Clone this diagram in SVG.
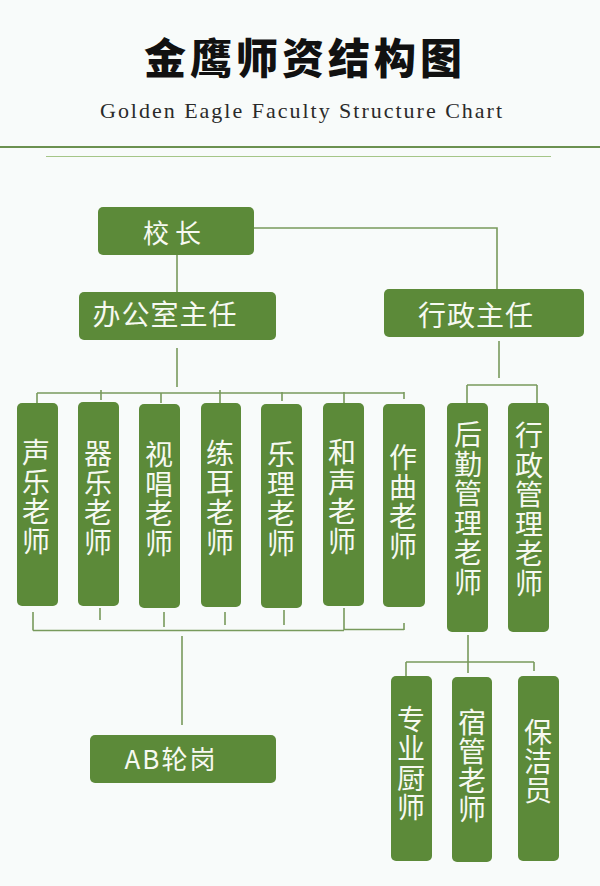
<svg xmlns="http://www.w3.org/2000/svg" width="600" height="886" viewBox="0 0 600 886">
<style>
.bg{fill:#f8fbfa}
.box{fill:#5c8a39}
.lbl{fill:#f6f9f1;font-family:"Noto Sans CJK SC","Noto Sans",sans-serif;font-size:28px;text-anchor:middle}
.conn path{fill:none;stroke:#789a5c;stroke-width:1.6}
.title{fill:#111;font-family:"Noto Sans CJK SC",sans-serif;font-weight:900;font-size:42px;text-anchor:middle;letter-spacing:4px}
.sub{fill:#2a2a2a;font-family:"Liberation Serif","DejaVu Serif",serif;font-size:22px}
</style>
<rect class="bg" x="0" y="0" width="600" height="886"/>
<g id="header">
<text class="title" x="305" y="74">金鹰师资结构图</text>
<text class="sub" x="100" y="118" textLength="402" lengthAdjust="spacing">Golden Eagle Faculty Structure Chart</text>
<line x1="0" y1="147" x2="600" y2="147" stroke="#6b9150" stroke-width="2.2"/>
<line x1="46" y1="156.5" x2="551" y2="156.5" stroke="#a5c688" stroke-width="1.2"/>
</g>
<g id="connectors" class="conn">
<path d="M254 228H497V289"/>
<path d="M177 255V292"/>
<path d="M177 348V387"/>
<path d="M37 393H404"/>
<path d="M37 393V403M101 390V400M161 393V403M220 390V403M282 392V401M344 392V403M404 392V399"/>
<path d="M499 341V378"/>
<path d="M467 385H537M467 385V403M537 385V403"/>
<path d="M33 612V630.5M100 608V620M164 612V627M225 612V625M284 610V625M344 608V630M404 623V630"/>
<path d="M33 630.5H344M344 629.5H404"/>
<path d="M182 636V725"/>
<path d="M468 635V673M406 662H534M406 662V677M534 662V671"/>
</g>
<g id="n-principal"><rect class="box" x="98" y="207" width="156" height="48" rx="5"/><text class="lbl" x="172" y="243" style="font-size:26px">校 长</text></g>
<g id="n-office"><rect class="box" x="79" y="292" width="197" height="48" rx="5"/><text class="lbl" x="165" y="325" style="letter-spacing:1px">办公室主任</text></g>
<g id="n-admin"><rect class="box" x="384" y="289" width="200" height="48" rx="5"/><text class="lbl" x="476" y="326" style="letter-spacing:1px">行政主任</text></g>
<g id="n-vocal"><rect class="box" x="17" y="403" width="41" height="203" rx="5"/><text class="lbl"><tspan x="36" y="463">声</tspan><tspan x="36" y="492.5">乐</tspan><tspan x="36" y="522">老</tspan><tspan x="36" y="551.5">师</tspan></text></g>
<g id="n-instr"><rect class="box" x="78" y="402" width="41" height="204" rx="5"/><text class="lbl"><tspan x="98" y="464">器</tspan><tspan x="98" y="493.5">乐</tspan><tspan x="98" y="523">老</tspan><tspan x="98" y="552.5">师</tspan></text></g>
<g id="n-sight"><rect class="box" x="139" y="404" width="41" height="204" rx="5"/><text class="lbl"><tspan x="159" y="465">视</tspan><tspan x="159" y="494.5">唱</tspan><tspan x="159" y="524">老</tspan><tspan x="159" y="553.5">师</tspan></text></g>
<g id="n-ear"><rect class="box" x="201" y="403" width="40" height="204" rx="5"/><text class="lbl"><tspan x="220" y="464">练</tspan><tspan x="220" y="493.5">耳</tspan><tspan x="220" y="523">老</tspan><tspan x="220" y="552.5">师</tspan></text></g>
<g id="n-theory"><rect class="box" x="261" y="404" width="41" height="204" rx="5"/><text class="lbl"><tspan x="281" y="465">乐</tspan><tspan x="281" y="494.5">理</tspan><tspan x="281" y="524">老</tspan><tspan x="281" y="553.5">师</tspan></text></g>
<g id="n-harmony"><rect class="box" x="323" y="403" width="41" height="203" rx="5"/><text class="lbl"><tspan x="342" y="463">和</tspan><tspan x="342" y="492.5">声</tspan><tspan x="342" y="522">老</tspan><tspan x="342" y="551.5">师</tspan></text></g>
<g id="n-compose"><rect class="box" x="383" y="404" width="42" height="203" rx="5"/><text class="lbl"><tspan x="403" y="468">作</tspan><tspan x="403" y="497.5">曲</tspan><tspan x="403" y="527">老</tspan><tspan x="403" y="556.5">师</tspan></text></g>
<g id="n-logistics"><rect class="box" x="447" y="403" width="41" height="229" rx="5"/><text class="lbl"><tspan x="468" y="445">后</tspan><tspan x="468" y="474.6">勤</tspan><tspan x="468" y="504.2">管</tspan><tspan x="468" y="533.8">理</tspan><tspan x="468" y="563.4">老</tspan><tspan x="468" y="593">师</tspan></text></g>
<g id="n-adminteacher"><rect class="box" x="508" y="403" width="41" height="229" rx="5"/><text class="lbl"><tspan x="529" y="446">行</tspan><tspan x="529" y="475.6">政</tspan><tspan x="529" y="505.2">管</tspan><tspan x="529" y="534.8">理</tspan><tspan x="529" y="564.4">老</tspan><tspan x="529" y="594">师</tspan></text></g>
<g id="n-ab"><rect class="box" x="90" y="735" width="186" height="48" rx="5"/><text class="lbl" x="171" y="769" style="font-size:26px;letter-spacing:2px">AB轮岗</text></g>
<g id="n-chef"><rect class="box" x="391" y="676" width="41" height="185" rx="5"/><text class="lbl"><tspan x="411" y="730">专</tspan><tspan x="411" y="759.3">业</tspan><tspan x="411" y="788.6">厨</tspan><tspan x="411" y="817.9">师</tspan></text></g>
<g id="n-dorm"><rect class="box" x="452" y="677" width="40" height="185" rx="5"/><text class="lbl"><tspan x="472" y="733">宿</tspan><tspan x="472" y="762">管</tspan><tspan x="472" y="791">老</tspan><tspan x="472" y="820">师</tspan></text></g>
<g id="n-clean"><rect class="box" x="518" y="676" width="41" height="185" rx="5"/><text class="lbl"><tspan x="538" y="743">保</tspan><tspan x="538" y="772">洁</tspan><tspan x="538" y="801">员</tspan></text></g>
</svg>
